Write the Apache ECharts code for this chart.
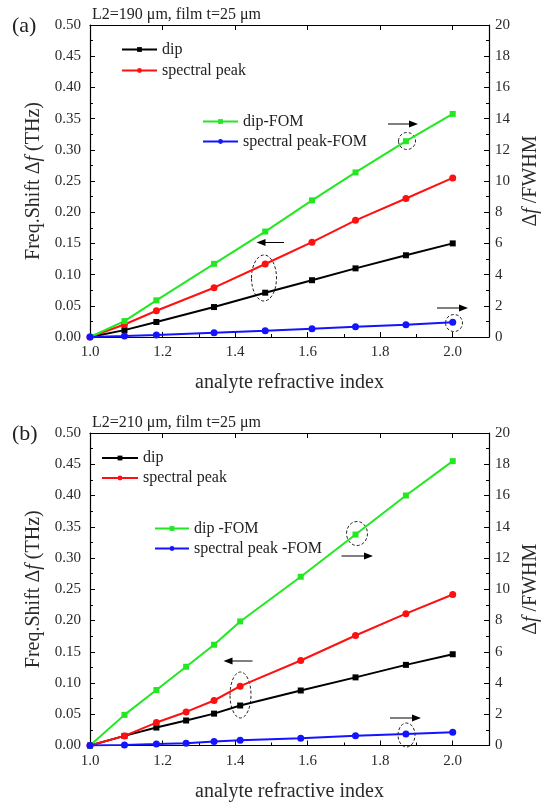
<!DOCTYPE html>
<html><head><meta charset="utf-8">
<script src="https://cdn.jsdelivr.net/npm/echarts@6/dist/echarts.min.js"></script>
<style>html,body{margin:0;padding:0;background:#fff}#c{width:553px;height:804px}</style>
</head><body><div id="c"></div>
<script>
// ---- panel (a): L2=190 um ----
const nA = [1.0, 1.095, 1.183, 1.342, 1.483, 1.612, 1.732, 1.871, 2.0];
const dipA = [0, 0.011, 0.024, 0.048, 0.071, 0.091, 0.110, 0.131, 0.150];
const peakA = [0, 0.020, 0.042, 0.079, 0.117, 0.152, 0.187, 0.222, 0.255];
const dipFomA = [0, 1.02, 2.35, 4.69, 6.76, 8.76, 10.55, 12.55, 14.3];
const peakFomA = [0, 0.06, 0.13, 0.28, 0.40, 0.53, 0.66, 0.79, 0.94];
// ---- panel (b): L2=210 um ----
const nB = [1.0, 1.095, 1.183, 1.265, 1.342, 1.414, 1.581, 1.732, 1.871, 2.0];
const dipB = [0, 0.0154, 0.0287, 0.040, 0.051, 0.064, 0.088, 0.109, 0.129, 0.146];
const peakB = [0, 0.0154, 0.0367, 0.0537, 0.072, 0.095, 0.136, 0.176, 0.211, 0.2416];
const dipFomB = [0, 1.96, 3.55, 5.04, 6.45, 7.94, 10.8, 13.5, 16.0, 18.2];
const peakFomB = [0, 0.04, 0.09, 0.15, 0.26, 0.34, 0.47, 0.62, 0.74, 0.85];
// axis ticks
const xTicks = {min: 1.0, max: 2.1, interval: 0.2};
const yLeft = {min: 0, max: 0.5, interval: 0.05};
const yRight = {min: 0, max: 20, interval: 2};

const FONT = 'Liberation Serif';
const TXT = '#2a2a2a';
const zip = (xs, ys) => xs.map((x, i) => [x, ys[i]]);

function xAxes(gi) {
  return [{
    gridIndex: gi, type: 'value', min: xTicks.min, max: xTicks.max, interval: xTicks.interval,
    position: 'bottom',
    name: 'analyte refractive index', nameLocation: 'middle', nameGap: 36,
    nameTextStyle: {fontFamily: FONT, fontSize: 20, color: TXT},
    axisLine: {onZero: false, lineStyle: {color: '#000', width: 1.2}},
    axisTick: {inside: true, length: 5, lineStyle: {color: '#000'}},
    minorTick: {show: true, splitNumber: 2, length: 3, lineStyle: {color: '#000'}},
    splitLine: {show: false},
    axisLabel: {showMaxLabel: false, margin: 8, fontFamily: FONT, fontSize: 15, color: TXT,
      formatter: v => v.toFixed(1)}
  }, {
    gridIndex: gi, type: 'value', min: xTicks.min, max: xTicks.max, interval: xTicks.interval,
    position: 'top',
    axisLine: {onZero: false, lineStyle: {color: '#000', width: 1.2}},
    axisTick: {inside: true, length: 5, lineStyle: {color: '#000'}},
    minorTick: {show: false},
    splitLine: {show: false},
    axisLabel: {show: false}
  }];
}
function yAxes(gi) {
  return [{
    gridIndex: gi, type: 'value', min: yLeft.min, max: yLeft.max, interval: yLeft.interval,
    position: 'left',
    name: 'Freq.Shift Δ{i|f} (THz)', nameLocation: 'middle', nameGap: 45, nameRotate: 90,
    nameTextStyle: {fontFamily: FONT, fontSize: 20, color: TXT,
      rich: {i: {fontFamily: FONT, fontSize: 20, fontStyle: 'italic', color: TXT}}},
    axisLine: {lineStyle: {color: '#000', width: 1.2}},
    axisTick: {inside: true, length: 5, lineStyle: {color: '#000'}},
    minorTick: {show: true, splitNumber: 2, length: 3, lineStyle: {color: '#000'}},
    splitLine: {show: false},
    axisLabel: {margin: 9, fontFamily: FONT, fontSize: 15, color: TXT, formatter: v => v.toFixed(2)}
  }, {
    gridIndex: gi, type: 'value', min: yRight.min, max: yRight.max, interval: yRight.interval,
    position: 'right',
    name: 'Δ{i|f} /FWHM', nameLocation: 'middle', nameGap: 30, nameRotate: 90,
    nameTextStyle: {fontFamily: FONT, fontSize: 20, color: TXT,
      rich: {i: {fontFamily: FONT, fontSize: 20, fontStyle: 'italic', color: TXT}}},
    axisLine: {lineStyle: {color: '#000', width: 1.2}},
    axisTick: {inside: true, length: 5, lineStyle: {color: '#000'}},
    minorTick: {show: true, splitNumber: 2, length: 3, lineStyle: {color: '#000'}},
    splitLine: {show: false},
    axisLabel: {margin: 6, fontFamily: FONT, fontSize: 15, color: TXT}
  }];
}

const GREEN = '#22e822', BLUE = '#1414ff', RED = '#ff1010', BLACK = '#000';
function ser(name, xi, yi, data, color, symbol, size) {
  return {name, type: 'line', xAxisIndex: xi, yAxisIndex: yi, data,
    symbol, symbolSize: size, showAllSymbol: true,
    lineStyle: {color, width: 2}, itemStyle: {color, borderWidth: 0},
    emphasis: {disabled: true}, animation: false};
}

const series = [
  ser('dip', 0, 0, zip(nA, dipA), BLACK, 'rect', 6),
  ser('spectral peak', 0, 0, zip(nA, peakA), RED, 'circle', 7),
  ser('dip-FOM', 0, 1, zip(nA, dipFomA), GREEN, 'rect', 6),
  ser('spectral peak-FOM', 0, 1, zip(nA, peakFomA), BLUE, 'circle', 7),
  ser('dip', 2, 2, zip(nB, dipB), BLACK, 'rect', 6),
  ser('spectral peak', 2, 2, zip(nB, peakB), RED, 'circle', 7),
  ser('dip -FOM', 2, 3, zip(nB, dipFomB), GREEN, 'rect', 6),
  ser('spectral peak -FOM', 2, 3, zip(nB, peakFomB), BLUE, 'circle', 7)
];

// one legend component per entry, centred on the given row
function leg(name, left, cy, w) {
  return {data: [name], left, top: cy - 8, padding: 0, orient: 'vertical', itemWidth: w, itemHeight: 6,
    selectedMode: false, textStyle: {fontFamily: FONT, fontSize: 16, color: '#222'}};
}

// annotation helpers (pixel decorations)
function arrow(x1, x2, y) {
  const dir = x2 > x1 ? 1 : -1;
  return [
    {type: 'line', silent: true, shape: {x1, y1: y, x2: x2 - dir * 7, y2: y}, style: {stroke: '#000', lineWidth: 1}},
    {type: 'polygon', silent: true, shape: {points: [[x2, y], [x2 - dir * 9, y - 3.5], [x2 - dir * 9, y + 3.5]]}, style: {fill: '#000'}}
  ];
}
function ell(cx, cy, rx, ry) {
  return {type: 'ellipse', silent: true, shape: {cx, cy, rx, ry},
    style: {fill: null, stroke: '#222', lineWidth: 1, lineDash: [3, 2]}};
}

const graphic = [
  {type: 'text', left: 12, top: 15, style: {text: '(a)', fontFamily: FONT, fontSize: 22, fill: '#222'}},
  {type: 'text', left: 92, top: 7, style: {text: 'L2=190 μm, film t=25 μm', fontFamily: FONT, fontSize: 16, fill: '#222'}},
  {type: 'text', left: 12, top: 423, style: {text: '(b)', fontFamily: FONT, fontSize: 22, fill: '#222'}},
  {type: 'text', left: 92, top: 415, style: {text: 'L2=210 μm, film t=25 μm', fontFamily: FONT, fontSize: 16, fill: '#222'}},
  // panel (a)
  ...arrow(388, 418, 124),
  ell(407, 141, 8.5, 8.5),
  ...arrow(284, 256.5, 242.5),
  ell(264, 278, 12.5, 23),
  ...arrow(437, 468, 308),
  ell(454, 323, 8.5, 8.5),
  // panel (b)
  ell(357, 533.5, 10.5, 12),
  ...arrow(341.5, 373, 556),
  ...arrow(252.5, 223.5, 661),
  ell(240.5, 695, 10.5, 23),
  ell(406.5, 735, 8.5, 12),
  ...arrow(390, 421, 718)
];

const option = {
  backgroundColor: '#fff',
  animation: false,
  grid: [
    {left: 90, top: 25, width: 399, height: 312},
    {left: 90, top: 433, width: 399, height: 312.5}
  ],
  xAxis: [...xAxes(0), ...xAxes(1)],
  yAxis: [...yAxes(0), ...yAxes(1)],
  legend: [
    leg('dip', 121, 49.5, 35),
    leg('spectral peak', 121, 70.5, 35),
    leg('dip-FOM', 202, 121.5, 35),
    leg('spectral peak-FOM', 202, 141.5, 35),
    leg('dip', 101, 458, 36),
    leg('spectral peak', 101, 478, 36),
    leg('dip -FOM', 154, 528.5, 34),
    leg('spectral peak -FOM', 154, 548.5, 34)
  ],
  series,
  graphic
};
const chart = echarts.init(document.getElementById('c'), null, {renderer: 'canvas'});
chart.setOption(option);
</script></body></html>
